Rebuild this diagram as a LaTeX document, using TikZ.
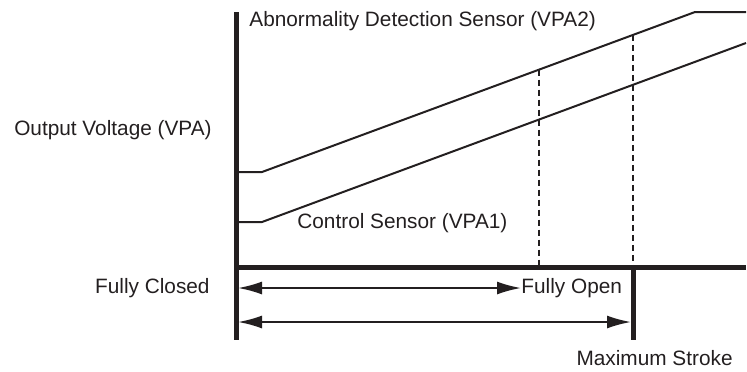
\documentclass[tikz,border=0pt]{standalone}
\usepackage{fontspec}
\setmainfont{Liberation Sans}
\usetikzlibrary{arrows.meta}
\definecolor{inkgray}{HTML}{231F20}

\begin{document}
\begin{tikzpicture}[x = 0.5pt, y = -0.5pt, color = inkgray,
		axisline/.style = {line width = 2.5pt},
		curveline/.style = {line width = 1pt},
		guideline/.style = {line width = 1.4pt, dash pattern = on 3pt off 2pt},
		strokearrow/.style = {line width = 1pt, {Latex[length = 12pt, width = 6.5pt]}-{Latex[length = 12pt, width = 6.5pt]}},
		label/.style = {inner sep = 0pt, font = \fontsize{10.4}{12}\selectfont}]
					\def\xMIN{236};
					\def\xMAX{746};
					\def\yTOP{12};
					\def\yBOT{340};
					\def\yAXIS{267};

					\useasboundingbox (0,0) rectangle (747,371);

					% coordinates
					\coordinate (ytop) at (\xMIN,\yTOP);
					\coordinate (ybot) at (\xMIN,\yBOT);
					\coordinate (origin) at (\xMIN,\yAXIS);
					\coordinate (xend) at (\xMAX,\yAXIS);
					\coordinate (full) at (633,\yAXIS);
					\coordinate (fullbot) at (633,\yBOT);

					% labels
					\node [label, anchor = east] (outv) at (212,130) {Output Voltage (VPA)};
					\node [label, anchor = east] (closed) at (210,288) {Fully Closed};
					\node [label, anchor = west] (vpatwo) at (249,21) {Abnormality Detection Sensor (VPA2)};
					\node [label, anchor = west] (vpaone) at (297,223) {Control Sensor (VPA1)};
					\node [label, anchor = west] (open) at (521,288) {Fully Open};
					\node [label, anchor = east] (stroke) at (733,358) {Maximum Stroke};

					\begin{scope}[curveline]
						\draw (\xMIN,172) -- (262,172) -- (695,\yTOP) -- (\xMAX,\yTOP);
						\draw (\xMIN,222) -- (262,222) -- (\xMAX,43);
					\end{scope}

					\begin{scope}[guideline]
						\draw (539,69.6) -- (539,\yAXIS);
						\draw (633,34.9) -- (full);
					\end{scope}

					\begin{scope}[axisline]
						\draw (ytop) -- (ybot);
						\draw (origin) -- (xend);
						\draw (full) -- (fullbot);
					\end{scope}

					\begin{scope}[strokearrow]
						\draw (\xMIN+2,288) -- (open.west);
						\draw (\xMIN+2,322) -- (631,322);
					\end{scope}
				\end{tikzpicture}
\end{document}
